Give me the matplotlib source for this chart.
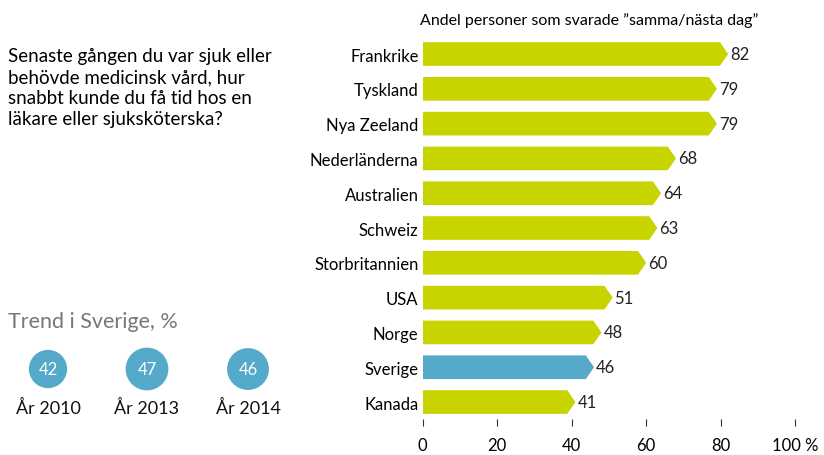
import numpy as np
import matplotlib.pyplot as plt
from matplotlib.patches import Polygon, Circle

plt.rcParams['font.family'] = ['Lato', 'DejaVu Sans']

# data
countries = ['Frankrike', 'Tyskland', 'Nya Zeeland', 'Nederländerna', 'Australien',
             'Schweiz', 'Storbritannien', 'USA', 'Norge', 'Sverige', 'Kanada']
values = [82, 79, 79, 68, 64, 63, 60, 51, 48, 46, 41]
trend_years = ['År 2010', 'År 2013', 'År 2014']
trend_values = [42, 47, 46]

green = '#c8d400'
blue = '#55a9c9'

fig = plt.figure(figsize=(8.24, 4.56), dpi=100)
ax = fig.add_axes([0.513, 0.078, 0.452, 0.8395])

n = len(countries)
h = 0.68
tip = 2.2
for i, (c, v) in enumerate(zip(countries, values)):
    y = i
    col = blue if c == 'Sverige' else green
    pts = [(0, y - h / 2), (v - tip, y - h / 2), (v, y), (v - tip, y + h / 2), (0, y + h / 2)]
    ax.add_patch(Polygon(pts, closed=True, facecolor=col, edgecolor='none'))
    ax.text(v + 0.5, y, str(v), va='center', ha='left', fontsize=12, color='#222222')

ax.set_xlim(0, 100)
ax.set_ylim(n - 0.5, -0.5)
ax.set_yticks(range(n))
ax.set_yticklabels(countries, fontsize=12)
ax.set_xticks([0, 20, 40, 60, 80, 100])
ax.set_xticklabels(['0', '20', '40', '60', '80', '100 %'], fontsize=12)
ax.tick_params(axis='y', length=0, pad=3)
ax.tick_params(axis='x', length=5, width=0.8, pad=8, color='#333333', direction='out')
for s in ax.spines.values():
    s.set_visible(False)
ax.set_title('Andel personer som svarade ”samma/nästa dag”', fontsize=11.5, loc='left',
             x=-0.008, pad=9)

fig.text(0.01, 0.895, 'Senaste gången du var sjuk eller\nbehövde medicinsk vård, hur\n'
         'snabbt kunde du få tid hos en\nläkare eller sjuksköterska?',
         fontsize=13.5, va='top', ha='left', linespacing=1.3, family='Lato')

fig.text(0.01, 0.293, 'Trend i Sverige, %', fontsize=15.5, color='#777777', va='center')

# trend circles
tax = fig.add_axes([0, 0, 0.4, 1])
tax.set_xlim(0, 329.6)
tax.set_ylim(456, 0)
tax.axis('off')
xs = [48, 147, 248]
for x, yr, v in zip(xs, trend_years, trend_values):
    tax.add_patch(Circle((x, 370), v * 0.455, facecolor=blue, edgecolor='none'))
    tax.text(x, 370, str(v), color='white', ha='center', va='center', fontsize=12)
    tax.text(x, 408, yr, color='#111111', ha='center', va='center', fontsize=13)

fig.savefig('out.png', dpi=100)
